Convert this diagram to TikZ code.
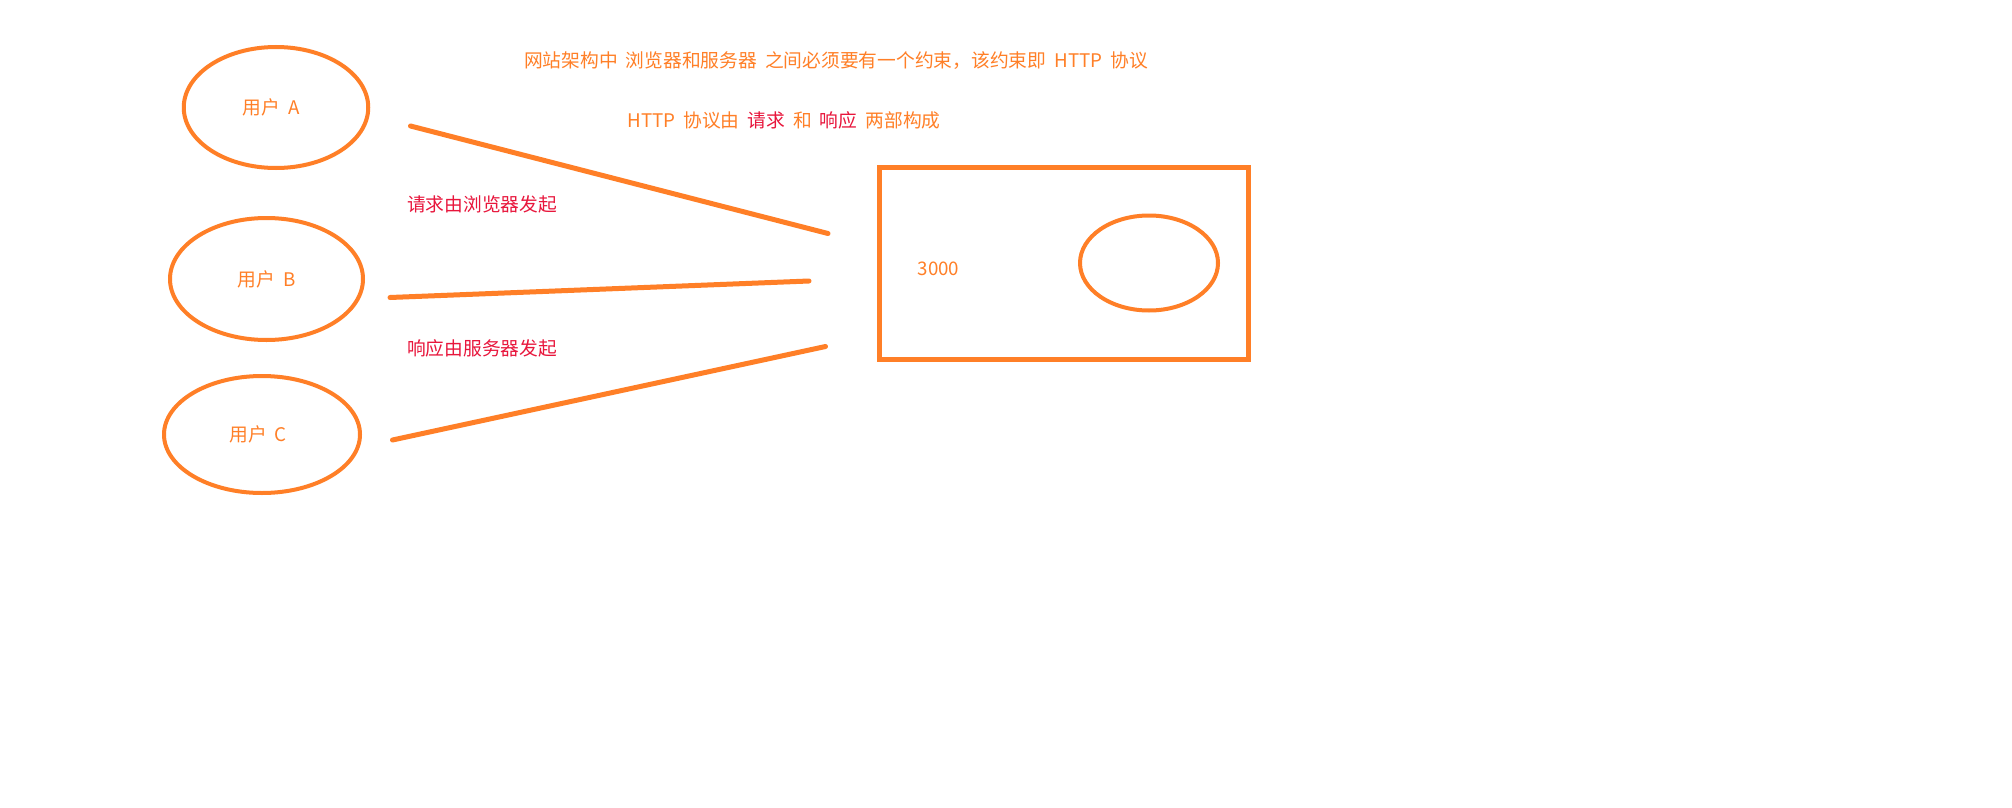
\documentclass[tikz,border=0pt]{standalone}
\usepackage{fontspec}
\setmainfont{Noto Sans CJK SC}
\usetikzlibrary{shapes.geometric}
\definecolor{org}{HTML}{FF7F27}
\definecolor{rd}{HTML}{E8163C}
\newcommand{\mywidesp}{\spaceskip=8pt\relax}
\begin{document}
\begin{tikzpicture}[x=1pt,y=-1pt,
  txt/.style={inner sep=0pt,font=\fontsize{18.75pt}{22pt}\selectfont\mywidesp,text=org},
  rtxt/.style={txt,text=rd},
  user/.style={ellipse,draw=org,line width=4pt,inner sep=0pt,txt},
  conn/.style={draw=org,line width=5pt,line cap=round},
  server/.style={draw=org,line width=4.7pt}]
\useasboundingbox[fill=white] (0,0) rectangle (2012,808);
% users
\node[user,minimum width=184.5pt,minimum height=121pt] (A) at (276,107.5) {用户 A\hspace*{10pt}};
\node[user,minimum width=193pt,minimum height=122pt] (B) at (266.5,279) {用户 B};
\node[user,minimum width=196pt,minimum height=117pt] (C) at (262,434.5) {\hspace*{6pt}用户 C\hspace*{14pt}};
% server box
\draw[server] (879.5,167.5) rectangle (1248.5,359.5);
\node[ellipse,draw=org,line width=4pt,minimum width=138pt,minimum height=95pt] (S) at (1149,263) {};
\node[txt] (port) at (938.5,269) {3000};
% connectors (free ends)
\coordinate (a1) at (410.5,126);
\coordinate (a2) at (828,233.5);
\coordinate (b1) at (390,297.5);
\coordinate (b2) at (809,281);
\coordinate (c1) at (392.5,440);
\coordinate (c2) at (825.5,346.5);
\draw[conn] (a1) -- (a2);
\draw[conn] (b1) -- (b2);
\draw[conn] (c1) -- (c2);
% texts
\node[txt] (t1) at (836,61) {网站架构中 浏览器和服务器 之间必须要有一个约束，该约束即 HTTP 协议};
\node[txt] (t2) at (784,120) {HTTP 协议由 \textcolor{rd}{请求} 和 \textcolor{rd}{响应} 两部构成};
\node[rtxt] (req) at (482,204) {请求由浏览器发起};
\node[rtxt] (res) at (482,348) {响应由服务器发起};
\end{tikzpicture}
\end{document}
